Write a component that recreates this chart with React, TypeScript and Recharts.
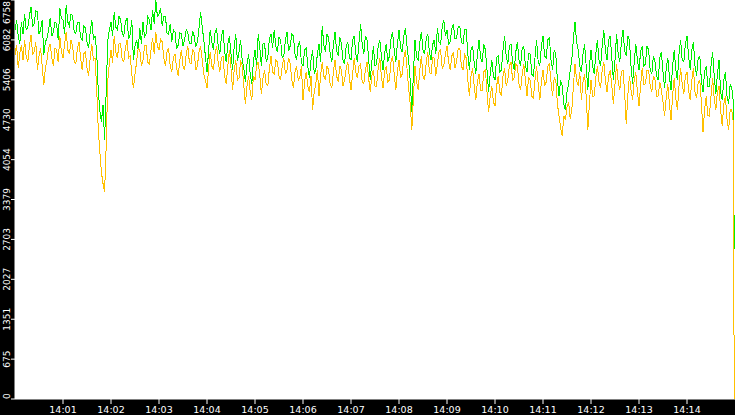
import { CartesianGrid, Line, LineChart, XAxis, YAxis } from 'recharts'

// one sample every 2 seconds from 14:00:00, last sample just before 14:15
const STEP_SECONDS = 2
const END_SECOND = 899

const greenSeries = [
  6250, 6420, 6148, 6013, 6385, 6182, 6521, 6250, 6284, 6487,
  6639, 6318, 6351, 6570, 6555, 6182, 6250, 6420, 5826, 6047,
  6114, 6250, 6453, 6148, 6216, 6385, 6351, 6082, 6622, 6453,
  6420, 6182, 6673, 6385, 6318, 6520, 6487, 6216, 6182, 6385,
  6385, 6130, 6082, 6318, 6284, 6047, 5945, 6216, 6420, 6100,
  6148, 5911, 5233, 4895, 4691, 4980, 4386, 5200, 6082, 6250,
  6385, 6148, 6555, 6300, 6250, 6487, 6420, 6200, 6148, 6385,
  6453, 6100, 6182, 6420, 5742, 5980, 6082, 5911, 6284, 6013,
  6385, 6130, 6182, 6470, 6420, 6250, 6589, 6350, 6758, 6480,
  6521, 6620, 6318, 6487, 6487, 6200, 6182, 6353, 6047, 6250,
  6216, 5930, 5996, 6200, 6182, 5980, 6082, 6260, 6216, 6013,
  6013, 6230, 6148, 5960, 6047, 6280, 6555, 6300, 6082, 5800,
  5538, 5900, 6250, 6047, 5911, 6200, 6284, 5980, 5843, 6130,
  6250, 5900, 5708, 6013, 6148, 5845, 5572, 5980, 6182, 5720,
  5877, 6080, 5742, 5600, 5369, 5670, 5843, 5500, 5335, 5720,
  5911, 5640, 6182, 5945, 5640, 6013, 6013, 5720, 5776, 6100,
  6182, 5945, 6250, 5980, 5877, 6130, 6082, 5780, 5809, 6080,
  6216, 5900, 5979, 6182, 6148, 5850, 5742, 6000, 6047, 5700,
  5640, 5911, 5945, 5640, 5437, 5740, 5911, 5520, 5572, 5850,
  6013, 5700, 6318, 6000, 5877, 6182, 6114, 5845, 5708, 6000,
  6216, 5900, 5809, 6130, 6013, 5740, 5674, 5980, 6047, 5780,
  5742, 6082, 6148, 5845, 5708, 6047, 6351, 6013, 5843, 6150,
  6082, 5780, 5403, 5700, 5979, 5640, 5674, 5980, 6082, 5809,
  5572, 5845, 6013, 5708, 5809, 6100, 6216, 5911, 5708, 6013,
  6250, 5945, 5877, 6150, 6284, 5980, 5742, 5400, 4861, 5500,
  6082, 5780, 5742, 6047, 6216, 5911, 5843, 6100, 6182, 5870,
  5742, 6000, 6082, 5845, 6284, 6047, 6013, 6300, 6420, 6150,
  6250, 6013, 6047, 6280, 6351, 6100, 6114, 6300, 6318, 6047,
  6013, 6250, 6250, 5850, 5572, 5911, 5979, 5700, 5504, 5845,
  6082, 5780, 5708, 6013, 5911, 5570, 5199, 5500, 5742, 5470,
  5403, 5780, 5809, 5540, 5572, 5911, 6148, 5809, 5674, 5980,
  6013, 5700, 5572, 5880, 6047, 5740, 5640, 5945, 5979, 5640,
  5538, 5845, 5843, 5500, 5471, 5780, 6082, 5708, 5640, 5980,
  6148, 5809, 5776, 6082, 6114, 5740, 5572, 5911, 5843, 5400,
  5132, 5400, 5301, 5000, 4895, 5200, 5335, 5570, 5742, 6100,
  6385, 6047, 5911, 5640, 5538, 5845, 6013, 5640, 5233, 5640,
  5911, 5640, 5504, 5845, 6082, 5740, 5640, 5980, 6250, 5911,
  5742, 6082, 6148, 5780, 5403, 5740, 6182, 5845, 5708, 6047,
  6250, 5911, 5809, 6150, 6082, 5640, 5335, 5700, 6013, 5740,
  5572, 5880, 5979, 5640, 5674, 5980, 5911, 5570, 5504, 5809,
  5708, 5470, 5403, 5780, 5877, 5540, 5267, 5600, 5776, 5470,
  5233, 5640, 5911, 5570, 5403, 5845, 6082, 5740, 5708, 6013,
  6148, 5809, 5572, 5911, 6047, 5640, 5471, 5780, 5809, 5400,
  5199, 5540, 5640, 5300, 5301, 5640, 5877, 5470, 5166, 5500,
  5742, 5200, 5064, 5400, 5538, 5130, 4996, 5330, 5267, 5030,
  2540,
]

const orangeSeries = [
  5826, 6000, 5606, 5850, 5996, 5740, 6082, 5800, 5708, 5980,
  6165, 5845, 5877, 6047, 5572, 5800, 5945, 5640, 5318, 5600,
  5742, 5945, 6013, 5780, 5640, 5945, 5911, 5700, 6148, 5880,
  5776, 6013, 6216, 5911, 5843, 6082, 5979, 5708, 5674, 5945,
  6047, 5780, 5572, 5845, 5877, 5600, 5471, 5780, 6013, 5740,
  5776, 5300, 4590, 4200, 3844, 3650, 3506, 4300, 5403, 5700,
  5911, 5700, 6148, 5880, 5776, 6013, 6013, 5740, 5708, 5945,
  6082, 5780, 5809, 5500, 5267, 5500, 5708, 5945, 5911, 5640,
  5742, 5980, 5979, 5700, 5674, 5911, 6114, 5845, 6216, 5980,
  5911, 6100, 6047, 5780, 5640, 5880, 5945, 5640, 5538, 5780,
  5843, 5600, 5471, 5740, 5911, 5640, 5572, 5845, 5979, 5700,
  5674, 5911, 5877, 5570, 5640, 5880, 5979, 5740, 5504, 5400,
  5267, 5600, 5877, 5640, 5572, 5845, 5979, 5700, 5538, 5780,
  5809, 5470, 5335, 5640, 5911, 5600, 5233, 5570, 5742, 5400,
  5437, 5740, 5640, 5300, 4996, 5300, 5471, 5200, 5064, 5470,
  5403, 5640, 5708, 5470, 5166, 5440, 5572, 5330, 5301, 5600,
  5809, 5540, 5504, 5740, 5708, 5470, 5403, 5640, 5776, 5500,
  5572, 5780, 5674, 5400, 5267, 5540, 5640, 5400, 5437, 5640,
  5064, 5370, 5538, 5300, 5199, 5470, 4895, 5200, 5335, 5570,
  5132, 5470, 5708, 5470, 5403, 5640, 5572, 5330, 5267, 5540,
  5742, 5470, 5369, 5640, 5572, 5300, 5403, 5600, 5708, 5440,
  5233, 5500, 5776, 5540, 5437, 5640, 5674, 5370, 5335, 5570,
  5708, 5440, 5199, 5470, 5572, 5300, 5301, 5600, 5776, 5470,
  5267, 5540, 5640, 5370, 5403, 5700, 5809, 5500, 5233, 5540,
  5742, 5440, 5504, 5780, 5911, 5600, 5267, 5000, 4556, 5100,
  5640, 5370, 5233, 5570, 5809, 5470, 5403, 5700, 5877, 5540,
  5504, 5780, 5776, 5470, 5674, 5880, 5911, 5600, 5640, 5845,
  5979, 5700, 5572, 5809, 5877, 5600, 5708, 5945, 5945, 5640,
  5572, 5850, 5776, 5400, 5132, 5470, 5606, 5300, 5064, 5370,
  5504, 5230, 5233, 5540, 5572, 5200, 4861, 5130, 5301, 5030,
  4962, 5300, 5471, 5200, 5132, 5470, 5606, 5300, 5403, 5640,
  5708, 5400, 5437, 5670, 5640, 5330, 5233, 5500, 5674, 5400,
  5132, 5440, 5403, 5130, 5098, 5400, 5640, 5330, 5064, 5370,
  5572, 5300, 5369, 5640, 5674, 5370, 5132, 5440, 5403, 5000,
  4793, 4600, 4454, 4800, 4725, 4950, 5030, 4750, 4895, 5300,
  5674, 5400, 5301, 5540, 5064, 5370, 5504, 5130, 4556, 5000,
  5403, 5130, 5132, 5440, 5640, 5370, 5267, 5570, 5708, 5400,
  5199, 5470, 5572, 5300, 4996, 5330, 5674, 5370, 5233, 5540,
  5572, 5200, 4657, 5130, 5471, 5230, 5064, 5400, 5538, 5200,
  4962, 5300, 5606, 5330, 5335, 5570, 5572, 5300, 5199, 5470,
  5403, 5130, 5132, 5370, 5233, 5030, 4793, 5100, 5335, 5000,
  4725, 5130, 5437, 5100, 4895, 5300, 5606, 5330, 5166, 5470,
  5538, 5230, 5064, 5400, 5606, 5200, 5098, 5370, 5403, 5030,
  4522, 4900, 5132, 4800, 4793, 5130, 5437, 5100, 4895, 5200,
  5301, 4900, 4624, 5000, 5132, 4750, 4556, 4900, 4895, 4680,
  0,
]

const yTicks = [0, 675, 1351, 2027, 2703, 3379, 4054, 4730, 5406, 6082, 6758]
const xTicks = [60, 120, 180, 240, 300, 360, 420, 480, 540, 600, 660, 720, 780, 840]

const WIDTH = 735
const HEIGHT = 415
const X_AXIS_H = 16
const PLOT_BOTTOM = HEIGHT - X_AXIS_H
const FONT = '"DejaVu Sans", sans-serif'

const data = greenSeries.map((g, i) => ({
  t: i === greenSeries.length - 1 ? END_SECOND : i * STEP_SECONDS,
  green: g,
  orange: orangeSeries[i],
}))

// rotated labels, kept inside the plot height at both ends
function YTick({ y, payload }: any) {
  const label = String(payload.value)
  const half = label.length * 2.9
  const cy = Math.min(Math.max(y, half + 1), PLOT_BOTTOM - half)
  return (
    <text
      x={10}
      y={cy}
      transform={`rotate(-90, 10, ${cy})`}
      textAnchor="middle"
      fill="#fff"
      fontSize={9}
      fontFamily={FONT}
    >
      {label}
    </text>
  )
}

function XTick({ x, payload }: any) {
  const m = Math.round(payload.value / 60)
  return (
    <text x={x} y={413} textAnchor="middle" fill="#fff" fontSize={9.5} fontFamily={FONT}>
      {`14:${String(m).padStart(2, '0')}`}
    </text>
  )
}

export default function App() {
  return (
    <div style={{ width: WIDTH, height: HEIGHT, background: '#000' }}>
      <style>{`body{margin:0} .recharts-line path{shape-rendering:crispEdges}`}</style>
      <LineChart width={WIDTH} height={HEIGHT} data={data} margin={{ top: 0, right: 0, bottom: 0, left: 0 }}>
        <CartesianGrid fill="#ffffff" stroke="#ffffff" />
        <XAxis
          dataKey="t"
          type="number"
          domain={[0, 900]}
          ticks={xTicks}
          interval={0}
          height={X_AXIS_H}
          axisLine={false}
          tickLine={{ stroke: '#fff' }}
          tickSize={5}
          tick={<XTick />}
        />
        <YAxis
          type="number"
          domain={[0, 6758]}
          ticks={yTicks}
          interval={0}
          width={15}
          axisLine={false}
          tickLine={{ stroke: '#fff' }}
          tickSize={4}
          tick={<YTick />}
        />
        <Line
          type="linear"
          dataKey="green"
          stroke="#00f000"
          strokeWidth={1}
          dot={false}
          activeDot={false}
          isAnimationActive={false}
        />
        <Line
          type="linear"
          dataKey="orange"
          stroke="#ffc000"
          strokeWidth={1}
          dot={false}
          activeDot={false}
          isAnimationActive={false}
        />
      </LineChart>
    </div>
  )
}
